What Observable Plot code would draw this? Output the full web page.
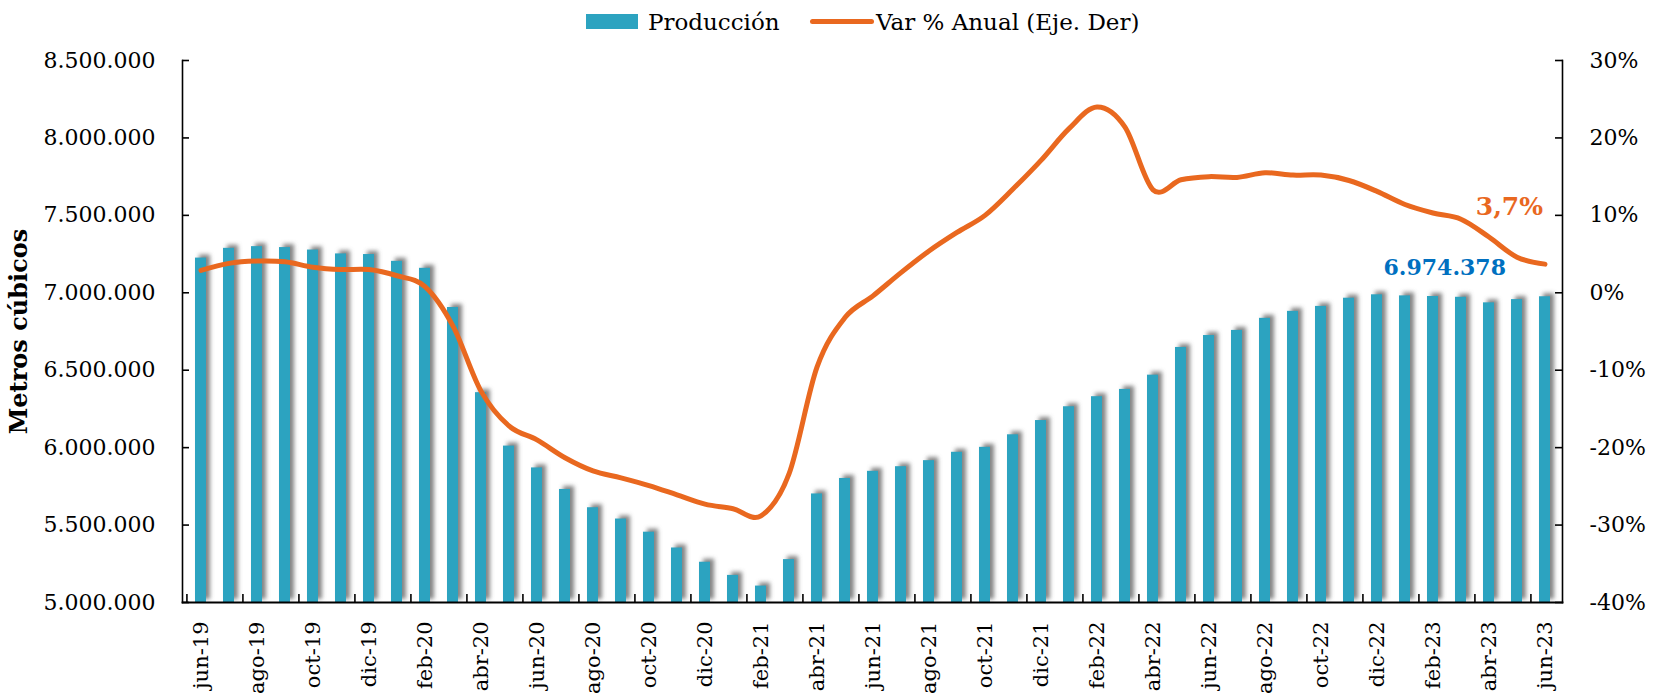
<!DOCTYPE html>
<html><head><meta charset="utf-8">
<script src="https://cdn.jsdelivr.net/npm/d3@7"></script>
<script src="https://cdn.jsdelivr.net/npm/@observablehq/plot@0.6"></script>
<style>
body{margin:0;background:#fff;width:1659px;height:697px;overflow:hidden;font-family:"DejaVu Serif",serif;}
#legend{position:relative;height:40px;font-size:23px;color:#000;}
#legend span{position:absolute;top:9px;line-height:26px;white-space:nowrap;}
</style></head><body>
<div id="legend">
 <div style="position:absolute;left:586px;top:14px;width:52px;height:15px;background:#2ca3c0"></div>
 <span style="left:648px">Producción</span>
 <div style="position:absolute;left:810px;top:18.5px;width:64px;height:5px;background:#e9681f;border-radius:2.5px"></div>
 <span style="left:876px">Var % Anual (Eje. Der)</span>
</div>
<div id="chart"></div>
<script>
const months = ["jun-19","jul-19","ago-19","sep-19","oct-19","nov-19","dic-19","ene-20","feb-20","mar-20","abr-20","may-20","jun-20","jul-20","ago-20","sep-20","oct-20","nov-20","dic-20","ene-21","feb-21","mar-21","abr-21","may-21","jun-21","jul-21","ago-21","sep-21","oct-21","nov-21","dic-21","ene-22","feb-22","mar-22","abr-22","may-22","jun-22","jul-22","ago-22","sep-22","oct-22","nov-22","dic-22","ene-23","feb-23","mar-23","abr-23","may-23","jun-23"];
const produccion = [7224000,7287000,7298000,7292000,7276000,7251000,7247000,7203000,7158000,6905000,6355000,6010000,5869000,5730000,5612000,5539000,5454000,5352000,5260000,5175000,5106000,5277000,5701000,5801000,5847000,5877000,5916000,5970000,6002000,6083000,6175000,6264000,6329000,6376000,6468000,6647000,6724000,6757000,6835000,6880000,6912000,6965000,6987000,6980000,6976000,6971000,6935000,6956000,6974378];
const varAnual = [2.9,3.8,4.1,4.0,3.3,3.0,3.0,2.2,0.8,-4.3,-12.7,-17.2,-19.0,-21.3,-23.0,-23.9,-24.9,-26.1,-27.3,-27.9,-28.8,-23.4,-9.6,-3.2,-0.4,2.6,5.4,7.8,10.0,13.4,17.1,21.2,24.0,21.4,13.3,14.6,15.0,14.9,15.5,15.2,15.2,14.5,13.1,11.4,10.3,9.5,7.2,4.6,3.7];
const leftTicks = [5000000,5500000,6000000,6500000,7000000,7500000,8000000,8500000];
const rightTicks = [-40,-30,-20,-10,0,10,20,30];

const data = months.map((m,i)=>({month:m, prod:produccion[i], pct:varAnual[i]}));
const pctToY = d3.scaleLinear().domain(d3.extent(rightTicks)).range(d3.extent(leftTicks));
const fmtES = d => d3.format(",")(d).replace(/,/g,".");
const fmtPct = d => String(Math.round(pctToY.invert(d))) + "%";
const labeled = months.filter((d,i)=>i%2===0);
const last = data[data.length-1];

const W = 1659, ML = 182, MR = 97, H = 657, MT = 20, MB = 95;
const step = (W-ML-MR)/months.length;
const blue = "#2ca3c0", orange = "#e9681f";

const chart = Plot.plot({
  width: W, height: H,
  marginLeft: ML, marginRight: MR, marginTop: MT, marginBottom: MB,
  style: {fontFamily: "DejaVu Serif", fontSize: "22px", color: "#000", background: "#fff"},
  x: {type: "band", domain: months, paddingInner: 0.62, paddingOuter: 0.31, label: null},
  y: {domain: d3.extent(leftTicks), label: null},
  marks: [
    Plot.barY(data, {x: "month", y1: leftTicks[0], y2: "prod", fill: "#6e6e6e", fillOpacity: 0.85, dx: 4, dy: -3, ariaDescription: "shadow"}),
    Plot.barY(data, {x: "month", y1: leftTicks[0], y2: "prod", fill: blue}),
    Plot.line(data, {x: "month", y: d => pctToY(d.pct), stroke: orange, strokeWidth: 5, curve: "cardinal", tension: 0}),
    Plot.frame({anchor: "left", stroke: "#000", strokeWidth: 1.6}),
    Plot.frame({anchor: "right", stroke: "#000", strokeWidth: 1.6}),
    Plot.frame({anchor: "bottom", stroke: "#000", strokeWidth: 1.8}),
    Plot.axisY(leftTicks, {anchor: "left", tickSize: 0, tickPadding: 27, tickFormat: fmtES, label: null}),
    Plot.axisY(leftTicks, {anchor: "left", tickSize: -7, tickFormat: () => "", label: null, strokeWidth: 1.6}),
    Plot.axisY(rightTicks.map(pctToY), {anchor: "right", tickSize: 0, tickPadding: 27, tickFormat: fmtPct, label: null}),
    Plot.axisY(rightTicks.map(pctToY), {anchor: "right", tickSize: -8, tickFormat: () => "", label: null, strokeWidth: 1.6}),
    Plot.axisX(labeled, {anchor: "bottom", tickSize: 0, tickPadding: 19, tickRotate: -90, fontSize: 21, label: null}),
    Plot.axisX(labeled, {anchor: "bottom", tickSize: -8, tickFormat: () => "", label: null, dx: -step/2, strokeWidth: 1.6}),
    Plot.text(["Metros cúbicos"], {frameAnchor: "left", textAnchor: "middle", rotate: -90, dx: -163, fontWeight: "bold", fontSize: 24}),
    Plot.text([last], {x: "month", y: "prod", text: d => fmtES(d.prod), textAnchor: "end", dx: -39, dy: -29, fill: "#0070c0", fontWeight: "bold", fontSize: 22}),
    Plot.text([last], {x: "month", y: d => pctToY(d.pct), text: d => String(d.pct).replace(".", ",") + "%", textAnchor: "end", dx: -2, dy: -57, fill: orange, fontWeight: "bold", fontSize: 25})
  ]
});
document.getElementById("chart").appendChild(chart);

// soft shadow for bars
const svg = d3.select(chart);
const defs = svg.insert("defs", ":first-child");
defs.append("filter").attr("id", "barShadow").attr("x", "-100%").attr("y", "-20%").attr("width", "300%").attr("height", "140%")
  .append("feGaussianBlur").attr("stdDeviation", 2.2);
svg.select('g[aria-description="shadow"]').attr("filter", "url(#barShadow)");
</script>
</body></html>
